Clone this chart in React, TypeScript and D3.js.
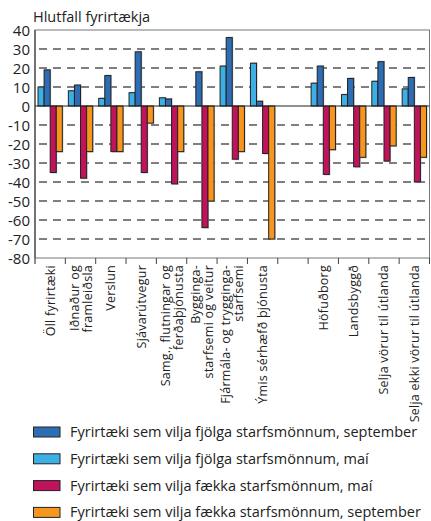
import React from "react";
import * as d3 from "d3";

const categories: string[][] = [
  ["Öll fyrirtæki"],
  ["Iðnaður og", "framleiðsla"],
  ["Verslun"],
  ["Sjávarútvegur"],
  ["Samg., flutningar og", "ferðaþjónusta"],
  ["Bygginga-", "starfsemi og veitur"],
  ["Fjármála- og trygginga-", "starfsemi"],
  ["Ýmis sérhæfð þjónusta"],
  [""],
  ["Höfuðborg"],
  ["Landsbyggð"],
  ["Selja vörur til útlanda"],
  ["Selja ekki vörur til útlanda"],
];

const fjolgaMai: (number | null)[] = [10, 8, 4, 7, 4.3, null, 21, 22.5, null, 12, 6, 13, 9];
const fjolgaSept: (number | null)[] = [19, 11, 16, 28.5, 3.7, 18, 36, 2.5, null, 21, 14.5, 23.3, 15];
const faekkaMai: (number | null)[] = [-35, -38, -24, -35, -41, -64, -28, -25, null, -36, -32, -29, -40];
const faekkaSept: (number | null)[] = [-24, -24, -24, -9, -24, -50, -24, -70, null, -23, -27, -21, -27];

const yTicks: number[] = [40, 30, 20, 10, 0, -10, -20, -30, -40, -50, -60, -70, -80];

const series = [
  { key: "fjolgaMai", values: fjolgaMai, color: "#3cb0e5", label: "Fyrirtæki sem vilja fjölga starfsmönnum, maí" },
  { key: "fjolgaSept", values: fjolgaSept, color: "#2c6db5", label: "Fyrirtæki sem vilja fjölga starfsmönnum, september" },
  { key: "faekkaMai", values: faekkaMai, color: "#c0135c", label: "Fyrirtæki sem vilja fækka starfsmönnum, maí" },
  { key: "faekkaSept", values: faekkaSept, color: "#f7961e", label: "Fyrirtæki sem vilja fækka starfsmönnum, september" },
];

const legendOrder = ["fjolgaSept", "fjolgaMai", "faekkaMai", "faekkaSept"];

const FONT = "'Open Sans', sans-serif";

export default function App() {
  const W = 431, H = 521;
  const left = 35, right = 429.5, top = 30, bottom = 258;

  const x = d3.scaleBand<number>().domain(categories.map((_, i) => i)).range([left, right]).padding(0);
  const inner = d3.scaleBand<string>().domain(series.map(s => s.key)).range([3, x.bandwidth() - 3]).padding(0);
  const y = d3.scaleLinear().domain([-80, 40]).range([bottom, top]);

  const grid = yTicks.filter(t => t !== 40 && t !== -80 && t !== 0);

  return (
    <svg width={W} height={H} style={{ position: "absolute", left: 0, top: 0, background: "#fff" }} fontFamily={FONT}>
      <text x={33} y={22} fontSize={14.5} fill="#222">Hlutfall fyrirtækja</text>
      {/* gridlines */}
      {grid.map(t => (
        <line key={t} x1={left} x2={right} y1={y(t)} y2={y(t)} stroke="#555" strokeWidth={1.3} strokeDasharray="8,6" strokeDashoffset={-4} />
      ))}
      {/* frame */}
      <rect x={left} y={top} width={right - left} height={bottom - top} fill="none" stroke="#777" strokeWidth={1} />
      {/* y labels */}
      {yTicks.map(t => (
        <text key={t} x={30} y={y(t) + 5.5} textAnchor="end" fontSize={15} fill="#222">{t}</text>
      ))}
      {/* bars */}
      {series.map(s => (
        <g key={s.key}>
          {s.values.map((v, i) => {
            if (v === null) return null;
            const bx = (x(i) as number) + (inner(s.key) as number);
            const bw = inner.bandwidth();
            const y0 = y(Math.max(0, v));
            const h = Math.abs(y(v) - y(0));
            return (
              <g key={i}>
                <rect x={bx + 1} y={y0 + (v > 0 ? -1 : 1)} width={bw} height={h} fill="#999" opacity={0.6} />
                <rect x={bx} y={y0} width={bw} height={h} fill={s.color} stroke="#222" strokeWidth={1} />
              </g>
            );
          })}
        </g>
      ))}
      {/* zero line & left axis */}
      <line x1={left} x2={right} y1={y(0)} y2={y(0)} stroke="#222" strokeWidth={1.2} />
      <line x1={left} x2={left} y1={top} y2={bottom + 6} stroke="#444" strokeWidth={1.2} />
      {/* x ticks */}
      {categories.map((_, i) => (
        <line key={i} x1={(x(i) as number) + x.bandwidth()} x2={(x(i) as number) + x.bandwidth()} y1={bottom} y2={bottom + 6} stroke="#444" strokeWidth={1} />
      ))}
      {/* x labels */}
      {categories.map((lines, i) => {
        const cx = (x(i) as number) + x.bandwidth() / 2;
        const n = lines.length;
        return lines.map((ln, j) => {
          const off = (j - (n - 1) / 2) * 13;
          return (
            <text key={i + "-" + j} transform={`translate(${cx + off + 4.5},${bottom + 7}) rotate(-90)`} textAnchor="end" fontSize={12.5} letterSpacing={0.25} fill="#222">{ln}</text>
          );
        });
      })}
      {/* legend */}
      {legendOrder.map((k, i) => {
        const s = series.find(ss => ss.key === k)!;
        const cy = 432 + i * 26.8;
        return (
          <g key={k}>
            <rect x={33.5} y={cy - 5} width={26.5} height={10} fill={s.color} stroke="#222" strokeWidth={1} />
            <text x={70} y={cy + 5} fontSize={14.5} fill="#222">{s.label}</text>
          </g>
        );
      })}
    </svg>
  );
}
